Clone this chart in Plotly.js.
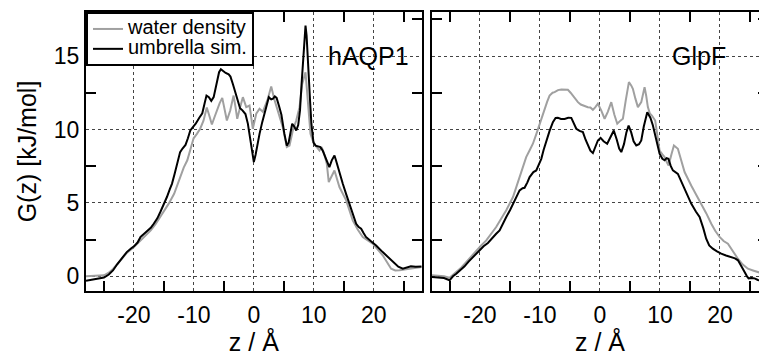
<!DOCTYPE html>
<html>
<head>
<meta charset="utf-8">
<script src="https://cdn.plot.ly/plotly-3.0.1.min.js"></script>
<style>
html, body { margin:0; padding:0; overflow:hidden; background:#fff; }
#chart { width:770px; height:356px; }
</style>
</head>
<body>
<div id="chart"></div>
<script>
// ---- hAQP1 panel ----
const aqpWaterZ = [-28,-26.5,-25,-24.2,-23.5,-22.8,-22,-21.2,-20,-18.9,-18,-17.2,-16.4,-15.6,-14.9,-14.2,-13.3,-12.8,-12.27,-11.7,-11.1,-10.6,-10.05,-9.5,-8.95,-8.4,-7.85,-7.4,-7.0,-6.6,-6.17,-5.7,-5.27,-4.9,-4.5,-3.94,-3.38,-3.05,-2.77,-2.3,-1.83,-1.27,-0.72,-0.17,0.4,0.95,1.5,2.33,2.9,3.45,4.28,4.83,5.5,5.95,6.5,7.07,7.62,8.07,8.62,9.0,9.45,9.83,10.3,10.95,11.3,11.7,12.17,12.5,13.45,14.28,15.4,16.5,17.3,18.17,19.83,21.5,22.9,23.6,24.3,25.95,27,28];
const aqpWaterG = [0.0,0.02,0.07,0.25,0.5,0.82,1.2,1.59,2.0,2.45,2.8,3.13,3.55,4.04,4.5,4.95,5.62,6.2,6.87,7.4,7.9,8.6,9.4,9.7,10.05,10.6,11.5,10.9,10.34,10.8,11.29,11.8,12.15,11.4,10.61,11.29,12.31,11.5,10.73,11.5,12.2,11.52,11.63,10.05,11.07,11.41,11.2,12.09,12.93,12.0,10.84,10.16,8.8,8.9,9.93,10.61,11.52,13.1,13.9,12.2,9.7,9.25,8.9,8.57,8.8,8.4,7.67,6.42,7.21,6.08,5.17,3.81,3.2,2.68,2.22,1.43,0.52,0.4,0.41,0.52,0.58,0.63];

const aqpUmbZ = [-28,-27,-26,-25,-24.2,-23.5,-22.8,-22,-21.2,-20.5,-20,-19.4,-18.9,-18.3,-17.8,-17.2,-16.7,-16.1,-15.6,-15,-14.5,-14,-13.66,-13.2,-12.8,-12.3,-11.9,-11.4,-11.0,-10.6,-10.1,-9.7,-9.1,-8.6,-8.2,-7.9,-7.5,-7.1,-6.7,-6.2,-5.8,-5.5,-5.1,-4.7,-4.2,-3.9,-3.5,-3.1,-2.7,-2.3,-1.9,-1.4,-1.0,-0.6,-0.3,0,0.3,0.6,0.95,1.4,1.8,2.2,2.5,2.9,3.2,3.5,3.8,4.2,4.6,5.1,5.5,5.8,6.1,6.4,6.75,7.07,7.4,7.7,7.95,8.2,8.45,8.62,8.8,9.0,9.2,9.4,9.6,9.95,10.3,10.7,11.1,11.5,12.0,12.6,13.0,13.45,13.7,14.0,14.4,14.84,15.4,15.95,16.5,17.07,17.5,17.9,18.3,18.7,19.5,20.4,21.5,22.6,23.5,24.1,24.85,25.5,26.2,27,28];
const aqpUmbG = [-0.3,-0.22,-0.15,-0.08,0.12,0.4,0.82,1.25,1.65,1.9,2.04,2.3,2.68,2.9,3.09,3.3,3.58,3.95,4.38,4.9,5.4,5.95,6.3,7.0,7.66,8.46,8.7,8.95,9.4,9.93,10.2,10.39,10.8,11.1,11.8,12.31,12.2,11.95,12.2,13.2,13.9,14.1,13.95,13.85,13.75,13.6,13.1,12.5,11.9,11.45,11.3,11.05,10.4,9.3,8.3,7.78,8.3,9.1,9.7,10.5,11.07,11.7,12.2,12.05,12.1,12.25,12.15,11.6,11.0,9.7,8.9,9.1,9.8,10.39,10.2,9.93,10.3,11.3,13.0,14.8,16.5,17.07,16.4,14.6,13.3,11.8,10.4,9.1,8.9,8.85,8.8,8.55,8.0,7.44,7.9,8.23,7.9,7.44,6.9,6.3,5.6,4.94,4.3,3.58,3.35,3.24,2.95,2.68,2.4,2.1,1.65,1.2,0.86,0.65,0.52,0.6,0.68,0.65,0.66];

// ---- GlpF panel ----
const glpWaterZ = [-28,-27,-26,-25.07,-24.5,-23.95,-23.1,-22.3,-21.5,-20.6,-19.8,-18.95,-18.1,-17.3,-16.5,-15.62,-14.5,-13.9,-13.4,-12.8,-12.3,-11.7,-11.18,-10.6,-10.07,-9.6,-9.23,-8.8,-8.4,-7.9,-7.57,-7.0,-6.45,-5.9,-5.35,-4.9,-4.52,-4.1,-3.68,-3.2,-2.85,-2.4,-2.02,-1.6,-1.18,-0.8,-0.35,0.2,0.77,1.3,1.88,2.4,2.88,3.4,3.82,4.3,4.82,5.2,5.48,5.9,6.32,6.88,7.2,7.43,7.7,7.98,8.3,8.65,9.2,9.6,9.93,10.4,10.77,11.1,11.43,11.9,12.32,12.98,13.5,14.1,15.2,16.0,16.88,17.7,18.55,19.2,19.93,20.6,21.32,22.1,22.98,23.8,24.65,25.5,26.3,27,28];
const glpWaterG = [0.07,0.03,0.0,-0.09,0.1,0.29,0.6,0.97,1.35,1.77,2.1,2.45,2.9,3.36,3.9,4.5,5.4,6.1,6.76,7.5,8.12,8.6,9.03,9.7,10.39,11.0,11.41,11.9,12.31,12.5,12.54,12.68,12.72,12.72,12.7,12.5,12.31,12.05,11.86,11.7,11.64,11.6,11.52,11.5,11.34,11.5,11.75,11.3,10.73,11.2,11.86,11.0,10.39,10.6,10.73,12.0,13.22,13.0,12.77,12.1,11.52,11.86,12.6,12.88,12.3,11.52,11.1,10.95,10.61,9.6,8.57,8.3,8.12,7.8,7.55,8.3,8.91,8.69,7.9,7.1,6.19,5.6,4.95,4.3,3.58,3.1,2.68,2.4,2.22,1.75,1.2,0.8,0.52,0.4,0.29,0.2,0.15];

const glpUmbZ = [-28,-27,-26,-25.07,-24.5,-23.95,-23.2,-22.57,-21.9,-21.18,-20.6,-20.07,-19.4,-18.68,-17.85,-17.3,-16.73,-16.2,-15.62,-15.0,-14.5,-13.9,-13.4,-12.9,-12.57,-12.1,-11.73,-11.1,-10.62,-10.2,-9.78,-9.4,-8.95,-8.4,-7.85,-7.4,-7.02,-6.5,-5.9,-5.3,-4.78,-4.4,-3.95,-3.4,-2.85,-2.4,-2.02,-1.6,-1.18,-0.75,-0.35,0.1,0.6,1.2,1.8,2.3,2.8,3.2,3.55,4.0,4.4,4.77,5.2,5.6,6.05,6.5,6.88,7.3,7.88,8.4,8.82,9.4,9.93,10.4,10.77,11.1,11.4,11.8,12.15,12.98,13.5,14.1,15.2,16.0,16.6,17.2,17.7,18.2,18.8,19.5,20.2,21.0,21.9,22.5,23.0,23.6,24.1,24.5,24.77,25.3,25.77,26.3,27,28];
const glpUmbG = [-0.05,-0.08,-0.12,-0.27,0.0,0.18,0.45,0.68,1.0,1.31,1.6,1.81,2.05,2.27,2.68,2.9,3.13,3.6,4.04,4.5,4.95,5.4,5.85,6.0,6.03,6.4,6.76,7.1,7.21,7.6,8.0,8.6,9.25,9.9,10.5,10.78,10.79,10.72,10.72,10.8,10.79,10.5,10.05,9.9,9.82,9.3,8.91,8.55,8.39,8.8,9.25,9.43,9.2,9.03,9.5,9.93,9.3,8.7,8.46,9.0,9.8,10.27,9.8,9.2,8.91,9.0,9.25,10.2,11.18,10.8,10.27,9.2,8.35,8.0,7.9,8.05,8.0,7.5,7.21,6.98,6.5,5.96,4.95,4.4,4.04,3.3,2.56,2.1,1.88,1.7,1.54,1.42,1.31,1.22,1.09,0.7,0.29,0.0,-0.14,-0.12,-0.14,-0.25,-0.3,-0.3];

const seriesNames = ['water density', 'umbrella sim.'];
const panelLabels = ['hAQP1', 'GlpF'];
const xTickVals = [-20, -10, 0, 10, 20];
const xTickText = ['-20', '-10', '0', '10', '20'];
const xMinorVals = [-25, -15, -5, 5, 15, 25];
const yTickVals = [0, 5, 10, 15];
const yTickText = ['0', '5', '10', '15'];
const yMinorVals = [2.5, 7.5, 12.5, 17.5];
const xRange = [-28, 28];
const yRange = [-1, 18];

const GRAY = '#a0a0a0';
const BLACK = '#000000';
const LEG = (s) => '<span style="font-size:20px">' + s + '</span>';

const traces = [
  {x: aqpWaterZ, y: aqpWaterG, name: LEG(seriesNames[0]), mode:'lines', line:{color:GRAY, width:2}, xaxis:'x', yaxis:'y'},
  {x: aqpUmbZ, y: aqpUmbG, name: LEG(seriesNames[1]), mode:'lines', line:{color:BLACK, width:2}, xaxis:'x', yaxis:'y'},
  {x: glpWaterZ, y: glpWaterG, name: seriesNames[0], mode:'lines', line:{color:GRAY, width:2}, xaxis:'x2', yaxis:'y2', showlegend:false},
  {x: glpUmbZ, y: glpUmbG, name: seriesNames[1], mode:'lines', line:{color:BLACK, width:2}, xaxis:'x2', yaxis:'y2', showlegend:false}
];

const frame = {showline: true, linecolor: BLACK, linewidth: 2, mirror: 'ticks', zeroline: false};
const grid = {showgrid: true, gridcolor: '#444', griddash: 'dot', gridwidth: 1};
const minorTicks = (vals) => ({tickmode: 'array', tickvals: vals, ticks: 'inside', ticklen: 10, tickwidth: 2, tickcolor: BLACK, showgrid: false});

function xAxis(domain, anchor) {
  return Object.assign({
    domain: domain, anchor: anchor, range: xRange,
    tickmode: 'array', tickvals: xTickVals, ticktext: xTickText,
    ticks: 'inside', ticklen: 0, tickwidth: 0, tickfont: {size: 23}, ticklabelstandoff: 2,
    minor: minorTicks(xMinorVals),
    title: {text: 'z / Å', font: {size: 25}}
  }, grid, frame);
}
function yAxis(anchor, labels) {
  return Object.assign({
    domain: [0, 1], anchor: anchor, range: yRange,
    tickmode: 'array', tickvals: yTickVals, ticktext: yTickText,
    ticks: 'inside', ticklen: 0, tickwidth: 0, tickfont: {size: 23}, showticklabels: labels, ticklabelstandoff: 0,
    minor: minorTicks(yMinorVals)
  }, grid, frame);
}

const yLeft = yAxis('x', true);
yLeft.title = {text: 'G(z) [kJ/mol]', font: {size: 25}, standoff: 10};
yLeft.automargin = true;

const layout = {
  width: 770, height: 356,
  margin: {l: 86, r: 2, t: 12, b: 65},
  paper_bgcolor: 'white', plot_bgcolor: 'white',
  font: {family: '"Liberation Sans", Arial, sans-serif', size: 22, color: BLACK},
  showlegend: true,
  legend: {x: 0, y: 1, xanchor: 'left', yanchor: 'top', bgcolor: 'white', bordercolor: BLACK, borderwidth: 2,
           font: {size: 13}, tracegroupgap: 0, itemwidth: 30, traceorder: 'normal'},
  xaxis: xAxis([0, 0.4922], 'y'),
  xaxis2: xAxis([0.5073, 1], 'y2'),
  yaxis: yLeft,
  yaxis2: yAxis('x2', false),
  annotations: [
    {xref:'x', yref:'y', x: 26.2, y: 15, text: panelLabels[0], showarrow:false, xanchor:'right', yanchor:'middle', font:{size:25}},
    {xref:'x2', yref:'y2', x: 21.3, y: 15, text: panelLabels[1], showarrow:false, xanchor:'right', yanchor:'middle', font:{size:25}}
  ]
};

Plotly.newPlot('chart', traces, layout, {displayModeBar: false, staticPlot: true});
</script>
</body>
</html>
